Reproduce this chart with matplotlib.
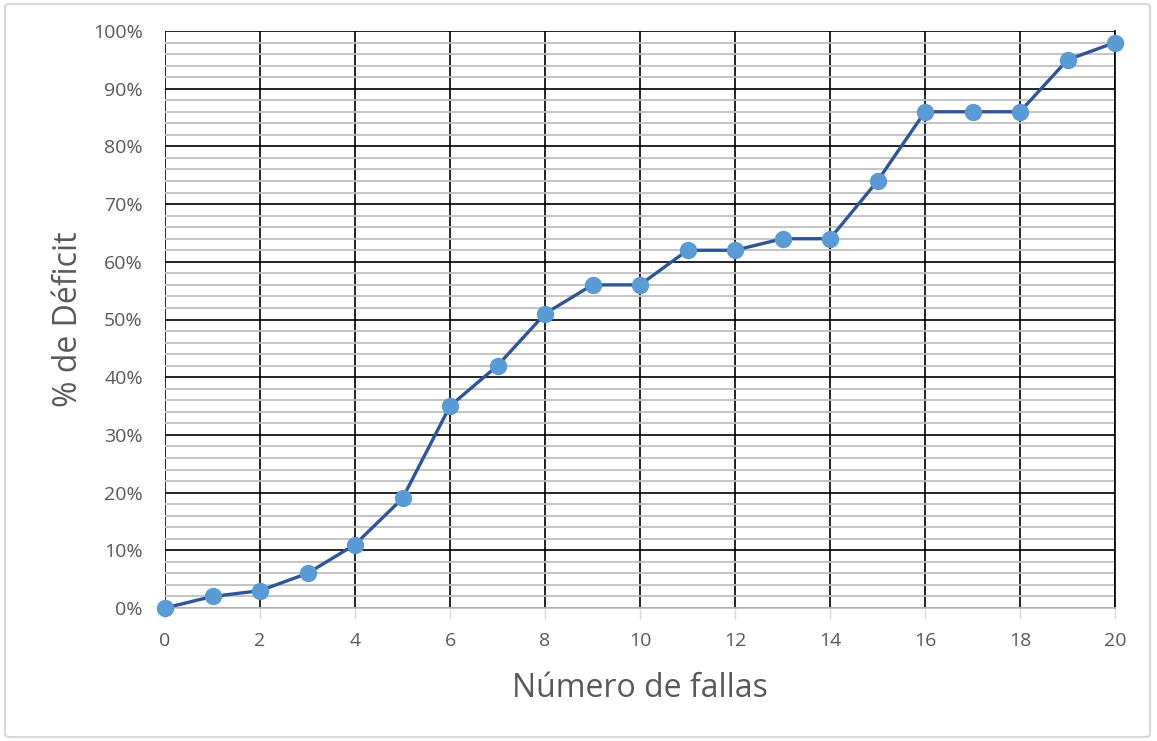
import matplotlib
matplotlib.use("Agg")
import matplotlib.pyplot as plt
from matplotlib.patches import FancyBboxPatch
from matplotlib.ticker import MultipleLocator, FuncFormatter

# Cumulative deficit by number of failures
fallas = list(range(0, 21))
deficit = [0, 2, 3, 6, 11, 19, 35, 42, 51, 56, 56, 62, 62, 64, 64, 74, 86, 86, 86, 95, 98]

plt.rcParams["font.family"] = ["Open Sans", "DejaVu Sans"]
text_color = "#595959"

fig = plt.figure(figsize=(11.57, 7.41), dpi=100)
ax = fig.add_axes([165 / 1157, 1 - 608 / 741, 950 / 1157, 577 / 741])

# light frame around the chart
fig.patches.append(FancyBboxPatch((5 / 1157, 4 / 741), 1145 / 1157, 733 / 741,
                                  boxstyle="round,pad=0,rounding_size=0.004",
                                  transform=fig.transFigure, fill=False,
                                  edgecolor="#d9d9d9", linewidth=1.5))

ax.plot(fallas, deficit, color="#2f5597", linewidth=2.4, marker="o",
        markersize=11.5, markerfacecolor="#5b9bd5", markeredgecolor="#5b9bd5",
        zorder=5, clip_on=False)

ax.set_xlim(0, 20)
ax.set_ylim(0, 100)
ax.xaxis.set_major_locator(MultipleLocator(2))
ax.yaxis.set_major_locator(MultipleLocator(10))
ax.yaxis.set_minor_locator(MultipleLocator(2))
ax.yaxis.set_major_formatter(FuncFormatter(lambda v, p: f"{v:.0f}%"))

ax.grid(which="minor", axis="y", color="#bfbfbf", linewidth=1.3)
ax.grid(which="major", axis="both", color="#000000", linewidth=1.2)
ax.set_axisbelow(True)

for side in ["top", "left"]:
    ax.spines[side].set_visible(False)
ax.spines["right"].set_color("#000000")
ax.spines["right"].set_linewidth(1.2)
ax.spines["bottom"].set_color("#bfbfbf")
ax.spines["bottom"].set_linewidth(1.3)

ax.tick_params(axis="x", which="major", length=8, width=1, color="#d9d9d9",
               labelsize=14, labelcolor=text_color, pad=9)
ax.tick_params(axis="y", which="both", length=0, labelsize=14,
               labelcolor=text_color, pad=16)

ax.set_xlabel("Número de fallas", fontsize=23, color=text_color, labelpad=16)
ax.set_ylabel("% de Déficit", fontsize=23, color=text_color, labelpad=6)

fig.savefig("out.png", dpi=100)
